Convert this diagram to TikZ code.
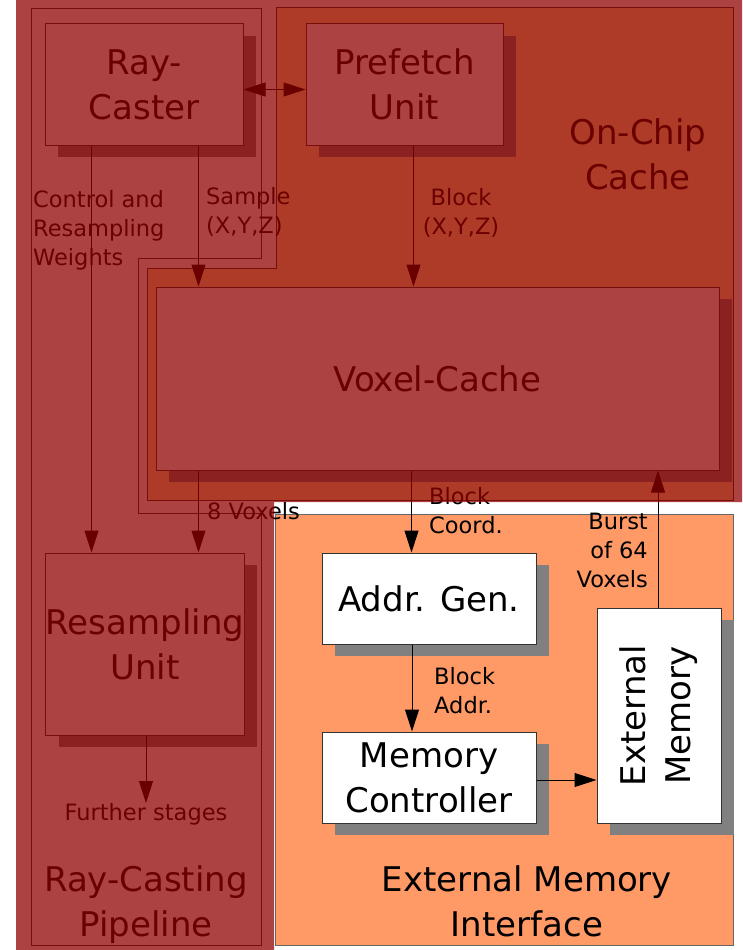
\documentclass[tikz,border=0pt]{standalone}
\usepackage{fontspec}
\setmainfont{DejaVu Sans}
\usetikzlibrary{arrows.meta,shadows,calc}
\definecolor{ovl}{RGB}{145,0,0}
\definecolor{orng}{RGB}{255,153,102}
\definecolor{chipfill}{RGB}{255,230,154}
\begin{document}
\begin{tikzpicture}[x=1pt,y=-1pt,
  big/.style={font=\fontsize{34}{45}\selectfont},
  small/.style={font=\fontsize{22.5}{29}\selectfont},
  box/.style={draw=black!80, line width=1pt, fill=white, inner sep=0pt, align=center, big,
    drop shadow={shadow xshift=13pt, shadow yshift=-12pt, fill=black!50, opacity=1}},
  arr/.style={line width=1pt, -{Triangle[length=22pt,width=14pt]}},
  darr/.style={line width=1pt, {Triangle[length=22pt,width=14pt]}-{Triangle[length=22pt,width=14pt]}},
  lbl/.style={small, inner sep=0pt, align=left},
  region/.style={big, align=center, inner sep=0pt}]
\useasboundingbox (0,0) rectangle (742,950);

% On-Chip Cache region
\filldraw[fill=chipfill, draw=black!80, line width=1pt] (276,8) -- (733,8) -- (733,500) -- (147,500) -- (147,268) -- (276,268) -- cycle;
% Ray-Casting Pipeline outline
\draw[black!80, line width=1pt] (31,9) -- (261,9) -- (261,258) -- (138,258) -- (138,513) -- (261,513) -- (261,945) -- (31,945) -- cycle;
% External Memory Interface region
\filldraw[fill=orng, draw=black!60, line width=1pt] (275,514) rectangle (733,945);

% boxes
\node[box, minimum width=198pt, minimum height=121pt] (rc) at (144,84.5) {Ray-\\Caster};
\node[box, minimum width=197pt, minimum height=121pt] (pf) at (404.5,84.5) {Prefetch\\Unit};
\node[box, minimum width=563pt, minimum height=183pt] (vc) at (437.5,378.5) {Voxel-Cache};
\node[box, minimum width=198pt, minimum height=182pt] (rs) at (145,644) {Resampling\\Unit};
\node[box, minimum width=214pt, minimum height=91pt] (ag) at (429,598.5) {Addr. Gen.};
\node[box, minimum width=214pt, minimum height=91pt] (mc) at (429,777.5) {Memory\\Controller};
\node[box, minimum width=124pt, minimum height=215pt] (em) at (659,715.5) {};
\node[big, rotate=90, align=center, inner sep=0pt] (emt) at (em.center) {External\\Memory};

% labels
\node[lbl, anchor=north west] (l1) at (33,190) {Control and\\Resampling\\Weights};
\node[lbl, anchor=north west] (l2) at (206,187) {Sample\\(X,Y,Z)};
\node[lbl, align=center, anchor=north] (l3) at (461,188) {Block\\(X,Y,Z)};
\node[lbl, anchor=north west] (l4) at (207,502) {8 Voxels};
\node[lbl, anchor=north west] (l5) at (429,487) {Block\\Coord.};
\node[lbl, align=right, anchor=north east] (l6) at (648,513) {Burst\\of 64\\Voxels};
\node[lbl, anchor=north west] (l7) at (434,667) {Block\\Addr.};
\node[lbl, align=center, anchor=north] (l8) at (146,803) {Further stages};

\node[region, anchor=north] (occ) at (638,118) {On-Chip\\Cache};
\node[region, anchor=north] (rcp) at (146,865) {Ray-Casting\\Pipeline};
\node[region, anchor=north] (emi) at (527,865) {External Memory\\Interface};

% connectors
\draw[darr] ([yshift=-5pt]rc.east) -- ([yshift=-5pt]pf.west);
\draw[arr] ([xshift=47pt]rc.south west) -- ([xshift=47pt]rc.south west |- rs.north);
\draw[arr] ([xshift=154pt]rc.south west) -- ([xshift=154pt]rc.south west |- vc.north);
\draw[arr] ([xshift=108pt]pf.south west) -- ([xshift=108pt]pf.south west |- vc.north);
\draw[arr] ([xshift=154pt]rc.south west |- vc.south) -- ([xshift=154pt]rc.south west |- rs.north);
\draw[arr] ([xshift=256pt]vc.south west) -- ([xshift=256pt]vc.south west |- ag.north);
\draw[arr] ([xshift=-17pt]ag.south) -- ([xshift=-17pt]mc.north);
\draw[arr] ([yshift=-2.5pt]mc.east) -- ([yshift=-2.5pt]mc.east -| em.west);
\draw[arr] ([xshift=-1pt]em.north) -- ([xshift=-1pt]em.north |- vc.south);
\draw[arr] (l8.north |- rs.south) -- (l8.north);

% translucent red overlay
\fill[ovl, fill opacity=0.74] (16,0) -- (742,0) -- (742,502) -- (274,502) -- (274,950) -- (16,950) -- cycle;
\end{tikzpicture}
\end{document}
